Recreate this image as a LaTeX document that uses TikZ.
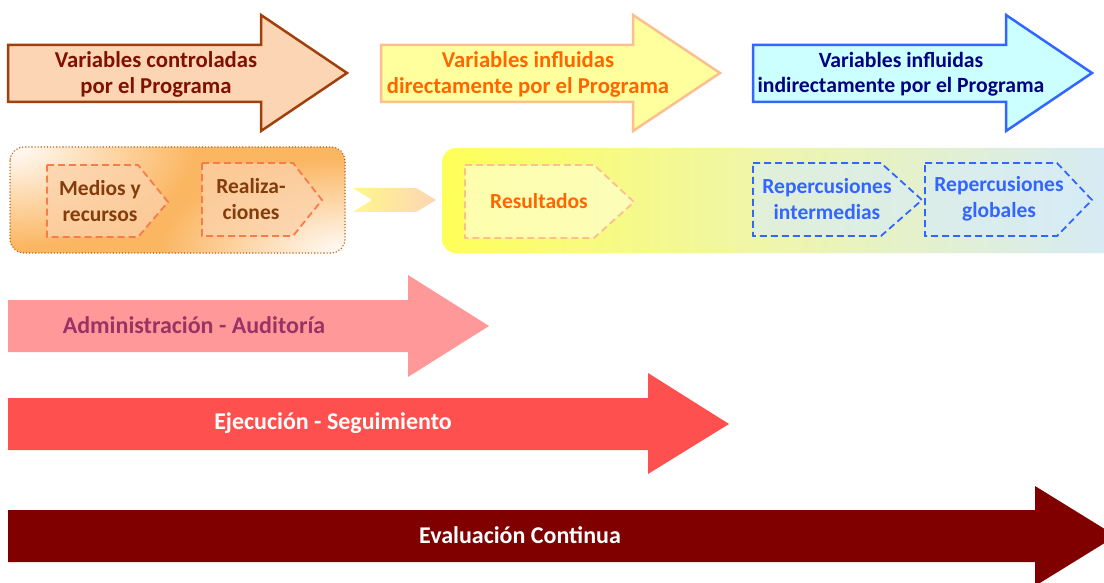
\documentclass[tikz,border=0pt]{standalone}
\usepackage{fontspec}
\setmainfont{Carlito}
\usetikzlibrary{shapes.geometric}
\definecolor{aOneFill}{RGB}{252,213,181}
\definecolor{aOneDraw}{RGB}{160,65,13}
\definecolor{aOneText}{RGB}{128,16,0}
\definecolor{aTwoFill}{RGB}{255,255,158}
\definecolor{aTwoDraw}{RGB}{250,192,144}
\definecolor{aTwoText}{RGB}{255,102,0}
\definecolor{aThrFill}{RGB}{204,255,255}
\definecolor{aThrDraw}{RGB}{51,102,255}
\definecolor{aThrText}{RGB}{0,0,128}
\definecolor{boxOrange}{RGB}{251,182,98}
\definecolor{boxPale}{RGB}{255,253,250}
\definecolor{boxDot}{RGB}{190,95,20}
\definecolor{pentOrange}{RGB}{246,124,78}
\definecolor{pentText}{RGB}{132,60,12}
\definecolor{pentFill}{RGB}{252,210,170}
\definecolor{resFill}{RGB}{255,255,200}
\definecolor{repFill}{RGB}{214,236,250}
\definecolor{gYellow}{RGB}{255,255,90}
\definecolor{gMid}{RGB}{238,245,175}
\definecolor{gBlue}{RGB}{212,234,250}
\definecolor{chevYellow}{RGB}{255,247,140}
\definecolor{admFill}{RGB}{255,153,153}
\definecolor{admText}{RGB}{153,51,102}
\definecolor{ejeFill}{RGB}{255,80,80}
\definecolor{evaFill}{RGB}{128,0,0}
\tikzset{
  toptext/.style={font=\fontsize{22.7}{26}\selectfont\bfseries, align=center, inner sep=0pt},
  toptextb/.style={font=\fontsize{21.7}{25}\selectfont\bfseries, align=center, inner sep=0pt},
  midtext/.style={font=\fontsize{21.5}{26}\selectfont\bfseries, align=center, inner sep=0pt},
  lowtext/.style={font=\fontsize{24}{26}\selectfont\bfseries, inner sep=0pt},
  pentdash/.style={dash pattern=on 7pt off 4pt, line width=1.8pt},
  paleglow/.style={inner color=boxPale, outer color=boxOrange},
}
\begin{document}
\begin{tikzpicture}[x=1pt,y=-1pt]
\useasboundingbox (0,0) rectangle (1104,583);
\clip (0,0) rectangle (1104,583);
% top arrows
\draw[line width=2.5pt, draw=aOneDraw, fill=aOneFill, line join=miter]
  (8,45) -- (261,45) -- (261,15) -- (347,73) -- (261,131) -- (261,102) -- (8,102) -- cycle;
\node[toptext, text=aOneText] (t1) at (156,74.5) {Variables controladas\\por el Programa};
\draw[line width=2.5pt, draw=aTwoDraw, fill=aTwoFill]
  (381,45) -- (633,45) -- (633,15) -- (720,73) -- (633,131) -- (633,102) -- (381,102) -- cycle;
\node[toptext, text=aTwoText] (t2) at (528,74.5) {Variables influidas\\directamente por el Programa};
\draw[line width=2.5pt, draw=aThrDraw, fill=aThrFill]
  (753,45) -- (1006,45) -- (1006,15) -- (1092,73) -- (1006,131) -- (1006,102) -- (753,102) -- cycle;
\node[toptextb, text=aThrText] (t3) at (901,74) {Variables influidas\\indirectamente por el Programa};
% left box
\begin{scope}
  \clip[rounded corners=14pt] (10,147) rectangle (345,253);
  \fill[boxOrange] (10,147) rectangle (345,253);
  \shade[paleglow] (10,147) ellipse [x radius=185pt, y radius=100pt];
  \shade[paleglow] (345,253) ellipse [x radius=185pt, y radius=95pt];
\end{scope}
\draw[rounded corners=14pt, draw=boxDot, line width=1.5pt, dash pattern=on 0.1pt off 3pt, line cap=round]
  (10,147) rectangle (345,253);
\draw[pentdash, draw=pentOrange, fill=pentFill, fill opacity=0.75]
  (47,165) -- (138,165) -- (168,202) -- (138,237) -- (47,237) -- cycle;
\node[midtext, text=pentText] (p1) at (100,201) {Medios y\\recursos};
\draw[pentdash, draw=pentOrange, fill=pentFill, fill opacity=0.75]
  (202,163) -- (293,163) -- (322,200) -- (293,236) -- (202,236) -- cycle;
\node[midtext, text=pentText] (p2) at (251,199) {Realiza-\\ciones};
% chevron
\path[left color=chevYellow, right color=aOneFill]
  (353,188) -- (416,188) -- (436,200) -- (416,212) -- (353,212) -- (372,200) -- cycle;
% right box
\path[rounded corners=14pt, left color=gYellow, right color=gBlue, middle color=gMid]
  (442,148) rectangle (1130,253);
\draw[pentdash, draw=aTwoDraw, fill=resFill, fill opacity=0.75]
  (465,165) -- (594,165) -- (634,202) -- (594,238) -- (465,238) -- cycle;
\node[midtext, text=aTwoText] (r1) at (539,201) {Resultados};
\draw[pentdash, draw=aThrDraw, fill=repFill, fill opacity=0.6]
  (753,163) -- (881,163) -- (922,200) -- (881,236) -- (753,236) -- cycle;
\node[midtext, text=aThrDraw] (r2) at (827,199) {Repercusiones\\intermedias};
\draw[pentdash, draw=aThrDraw, fill=repFill, fill opacity=0.6]
  (925,163) -- (1057,163) -- (1092,200) -- (1057,236) -- (925,236) -- cycle;
\node[midtext, text=aThrDraw] (r3) at (999,199) {Repercusiones\\globales};
% bottom arrows
\fill[admFill] (8,300) -- (408,300) -- (408,275) -- (489,326) -- (408,377) -- (408,352) -- (8,352) -- cycle;
\node[lowtext, text=admText] (b1) at (194,325) {Administración - Auditoría};
\fill[ejeFill] (8,398) -- (648,398) -- (648,373) -- (729,424) -- (648,474) -- (648,450) -- (8,450) -- cycle;
\node[lowtext, text=white] (b2) at (333,423) {Ejecución - Seguimiento};
\fill[evaFill] (8,510) -- (1035,510) -- (1035,486) -- (1116,536) -- (1035,586) -- (1035,562) -- (8,562) -- cycle;
\node[lowtext, text=white] (b3) at (520,535) {Evaluación Continua};
\end{tikzpicture}
\end{document}
